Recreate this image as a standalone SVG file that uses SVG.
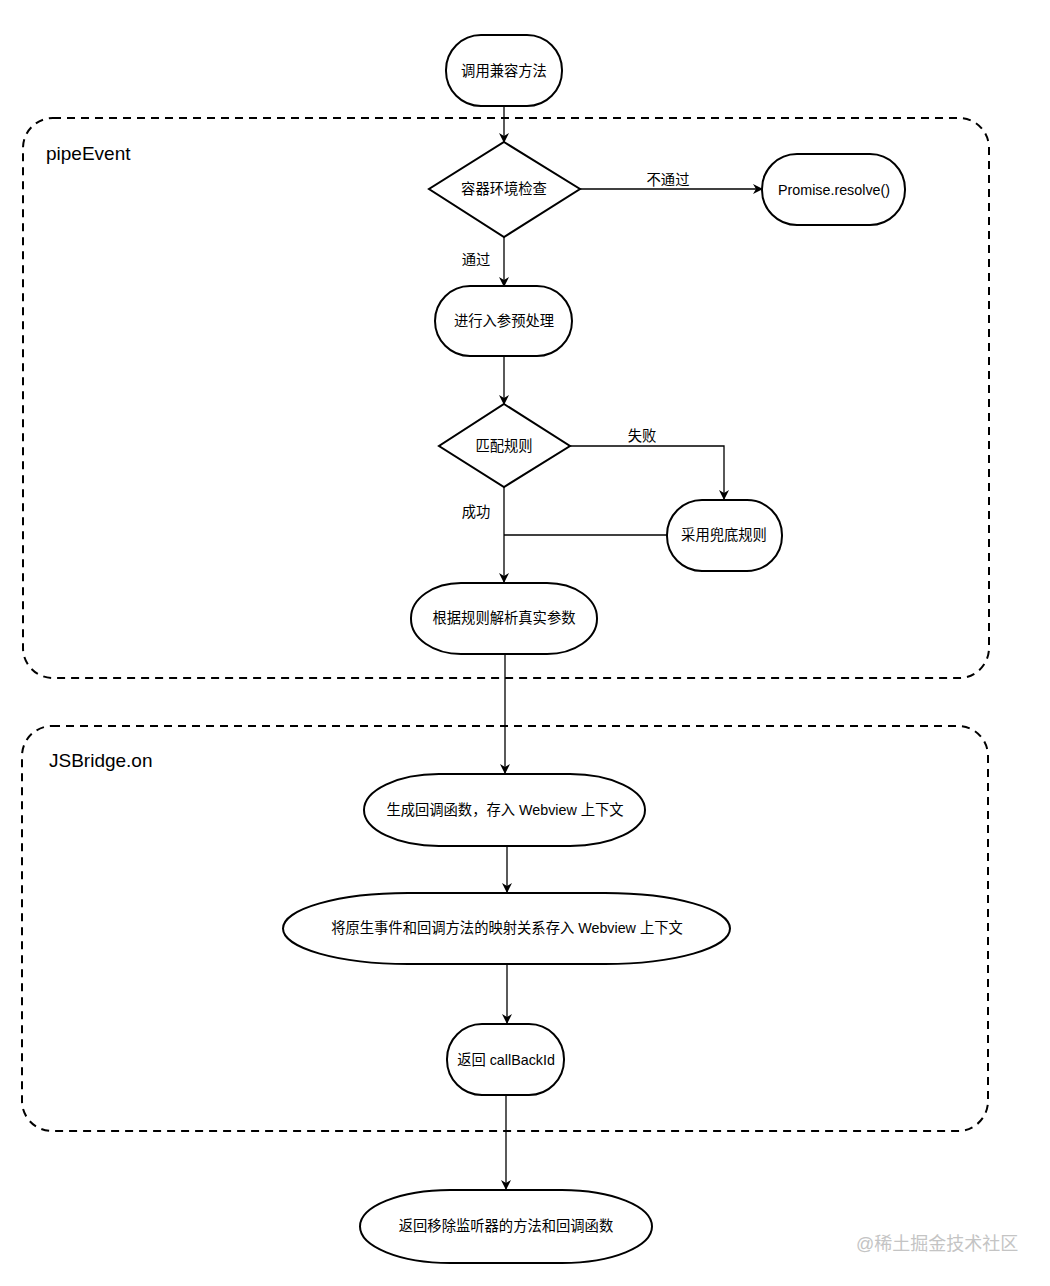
<svg xmlns="http://www.w3.org/2000/svg" width="1050" height="1286" viewBox="0 0 1050 1286">
<style>
.n{fill:#fff;stroke:#000;stroke-width:2}
.c{fill:none;stroke:#000;stroke-width:1.3}
.box{fill:none;stroke:#000;stroke-width:2;stroke-dasharray:8 6}
.t{font-family:"Liberation Sans","Noto Sans CJK SC",sans-serif;font-size:14.3px;fill:#000;text-anchor:middle;dominant-baseline:central}
.h{font-family:"Liberation Sans","Noto Sans CJK SC",sans-serif;font-size:19px;fill:#000}
.w{font-family:"Liberation Sans","Noto Sans CJK SC",sans-serif;font-size:18px;fill:#c4c4c4}
</style>
<defs>
<marker id="a" viewBox="0 0 10 10" refX="9" refY="5" markerWidth="10" markerHeight="10" markerUnits="userSpaceOnUse" orient="auto">
<path d="M0,0 L10,5 L0,10 L3,5 Z" fill="#000"/>
</marker>
</defs>
<rect fill="#fff" x="0" y="0" width="1050" height="1286"/>
<g id="containers">
<rect class="box" x="23" y="118" width="966" height="560" rx="30"/>
<text class="h" x="46" y="160">pipeEvent</text>
<rect class="box" x="22" y="726" width="966" height="405" rx="30"/>
<text class="h" x="49" y="767">JSBridge.on</text>
</g>
<g id="connectors">
<path class="c" d="M504,106 L504,142" marker-end="url(#a)"/>
<path class="c" d="M580,189 L762,189" marker-end="url(#a)"/>
<text class="t" x="668" y="180">不通过</text>
<path class="c" d="M504,237 L504,286" marker-end="url(#a)"/>
<text class="t" x="476" y="260">通过</text>
<path class="c" d="M504,356 L504,404" marker-end="url(#a)"/>
<path class="c" d="M570,446 L724,446 L724,499" marker-end="url(#a)"/>
<text class="t" x="642" y="436">失败</text>
<path class="c" d="M504,487 L504,582" marker-end="url(#a)"/>
<text class="t" x="476" y="512">成功</text>
<path class="c" d="M667,535 L504,535"/>
<path class="c" d="M505,654 L505,773" marker-end="url(#a)"/>
<path class="c" d="M507,846 L507,892" marker-end="url(#a)"/>
<path class="c" d="M507,964 L507,1023" marker-end="url(#a)"/>
<path class="c" d="M506,1095 L506,1189" marker-end="url(#a)"/>
</g>
<g id="start"><rect class="n" x="446" y="35" width="116" height="71" rx="35"/><text class="t" x="504" y="71">调用兼容方法</text></g>
<g id="check"><path class="n" d="M504,142 L580,189 L504,237 L429,189 Z"/><text class="t" x="504" y="189">容器环境检查</text></g>
<g id="resolve"><rect class="n" x="762" y="154" width="143" height="71" rx="35"/><text class="t" x="834" y="190">Promise.resolve()</text></g>
<g id="pre"><rect class="n" x="435" y="286" width="137" height="70" rx="35"/><text class="t" x="504" y="321">进行入参预处理</text></g>
<g id="match"><path class="n" d="M504,404 L570,446 L504,487 L439,446 Z"/><text class="t" x="504" y="446">匹配规则</text></g>
<g id="fallback"><rect class="n" x="667" y="500" width="115" height="71" rx="35"/><text class="t" x="724" y="535">采用兜底规则</text></g>
<g id="parse"><rect class="n" x="411" y="583" width="186" height="71" rx="50" ry="35"/><text class="t" x="504" y="618">根据规则解析真实参数</text></g>
<g id="gen"><rect class="n" x="364" y="774" width="281" height="72" rx="75" ry="36"/><text class="t" x="505" y="810">生成回调函数，存入 Webview 上下文</text></g>
<g id="map"><rect class="n" x="283" y="893" width="447" height="71" rx="125" ry="35.5"/><text class="t" x="507" y="928">将原生事件和回调方法的映射关系存入 Webview 上下文</text></g>
<g id="ret"><rect class="n" x="447" y="1024" width="117" height="71" rx="35"/><text class="t" x="506" y="1060">返回 callBackId</text></g>
<g id="end"><rect class="n" x="360" y="1190" width="292" height="73" rx="90" ry="36.5"/><text class="t" x="506" y="1226">返回移除监听器的方法和回调函数</text></g>
<text class="w" x="856" y="1250">@稀土掘金技术社区</text>
</svg>
